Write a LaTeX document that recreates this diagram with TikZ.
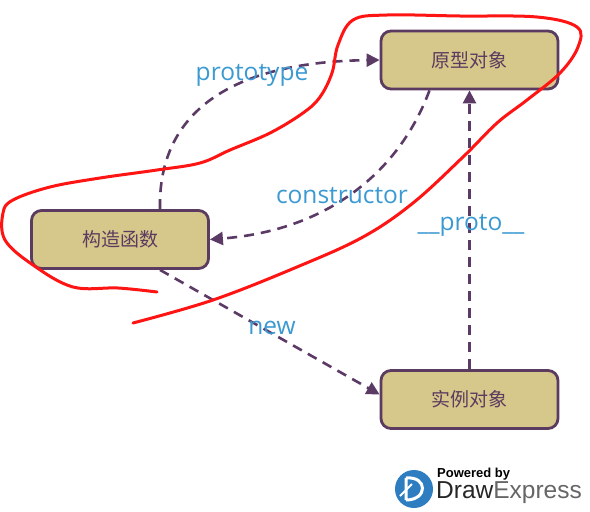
\documentclass[tikz,border=0pt]{standalone}
\usepackage{fontspec}
\setmainfont{Open Sans}
\newfontfamily\cjkfont{Noto Sans CJK SC}
\newfontfamily\logofont{Liberation Sans}
\usetikzlibrary{arrows.meta}
\definecolor{boxfill}{HTML}{D6C78A}
\definecolor{boxline}{HTML}{5B3B5F}
\definecolor{arrowcol}{HTML}{5C3A66}
\definecolor{labelcol}{HTML}{3C9AD2}
\definecolor{redpen}{HTML}{FF1414}
\definecolor{logoblue}{HTML}{2E7DC0}
\tikzset{
  objbox/.style={draw=boxline, fill=boxfill, line width=2.8pt, rounded corners=10pt,
    minimum width=177pt, minimum height=58pt, inner sep=0pt,
    font=\cjkfont\fontsize{19}{19}\selectfont, text=boxline},
  link/.style={draw=arrowcol, line width=2.6pt, dash pattern=on 10pt off 7pt,
    -{Triangle[length=13pt,width=13pt]}},
  lbl/.style={text=labelcol, font=\fontsize{24.5}{24.5}\selectfont, anchor=base, inner sep=0pt},
}
\begin{document}
\begin{tikzpicture}[x=1pt,y=-1pt]
\useasboundingbox[fill=white] (0,0) rectangle (590,512);

\node[objbox] (proto) at (469.5,60) {原型对象};
\node[objbox] (ctor) at (120,239.5) {构造函数};
\node[objbox] (inst) at (469.5,399.5) {实例对象};

\path[link] ([xshift=40pt]ctor.north) .. controls (158,120) and (220,62) .. (proto.west);
\path[link] ([xshift=-40pt]proto.south) .. controls (400,170) and (330,230) .. (ctor.east);
\path[link] ([xshift=40pt]ctor.south) -- ([yshift=5pt]inst.west);
\path[link] (inst.north) -- (proto.south);

\node[lbl] (lproto) at (252,80) {prototype};
\node[lbl] (lctor) at (342,203) {constructor};
\node[lbl] (lpp) at (471,230) {\_\_proto\_\_};
\node[lbl] (lnew) at (272,334) {new};

% red freehand stroke
\draw[redpen, line width=3pt, line cap=round, line join=round]
  plot[smooth, tension=0.6] coordinates {
  (157,292) (118,288) (73,287) (33,265) (5,240) (3,213) (13,200) (50,187) (100,178)
  (157,170) (200,163) (230,150) (270,133) (303,113) (320,97) (332,73) (338,45)
  (353,20) (387,15) (460,16) (537,17) (577,27) (578,47) (560,73) (527,100)
  (497,123) (463,157) (413,203) (363,237) (297,267) (213,300) (133,323)};

% logo
\fill[logoblue] (414,489) circle (19);
\draw[white, line width=3pt] (406,478) -- (406,500) (406,478) .. controls (428,476) and (428,500) .. (406,500);
\draw[white, line width=2pt] (400,496) -- (412,484);
\node[font=\logofont\bfseries\fontsize{13}{13}\selectfont, anchor=base west, inner sep=0pt] (pb) at (437,477) {Powered by};
\node[font=\logofont\fontsize{24.5}{24.5}\selectfont, anchor=base west, inner sep=0pt, text=black!85] (de) at (436,498) {Draw\textcolor{black!60}{Express}};
\end{tikzpicture}
\end{document}
